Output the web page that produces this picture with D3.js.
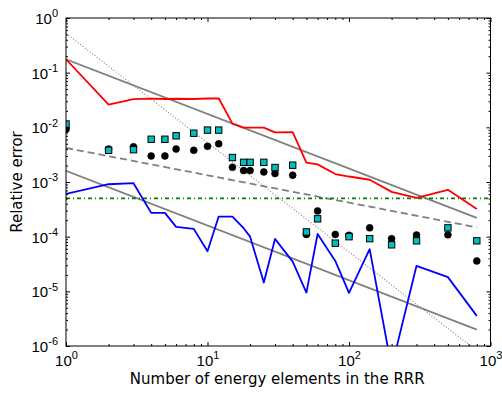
<!DOCTYPE html>
<html>
<head>
<meta charset="utf-8">
<script src="https://cdn.jsdelivr.net/npm/d3@7"></script>
<style>
  html, body { margin: 0; padding: 0; background: #fff; }
  svg { display: block; font-family: "DejaVu Sans", sans-serif; }
</style>
</head>
<body>
<svg id="chart" width="502" height="393"></svg>
<script>
// Number of energy elements in the RRR
const nValues = [1, 2, 3, 4, 5, 6, 8, 10, 12, 15, 18, 20, 25, 30, 40, 50, 60, 80, 100, 140, 200, 300, 500, 800];

// Relative error curves
const redError = [0.176, 0.026, 0.0327, 0.0335, 0.033, 0.0333, 0.033, 0.0337, 0.034, 0.0117, 0.0099, 0.0099, 0.0099,
  0.0081, 0.0082, 0.00226, 0.0021, 0.0014, 0.00126, 0.0011, 0.00066, 0.00051, 0.00072, 0.00032];
const blueError = [6.05e-4, 9.1e-4, 9.5e-4, 2.72e-4, 2.72e-4, 1.51e-4, 1.39e-4, 5.4e-5, 2.33e-4, 2.33e-4, 1.43e-4, 1.0e-4,
  1.45e-5, 9.1e-5, 3.5e-5, 9.5e-6, 1.12e-4, 3.6e-5, 9.4e-6, 5.9e-5, 4e-7, 2.93e-5, 1.82e-5, 3.56e-6];

// Marker series
const circleError = [9.2e-3, 4.0e-3, 4.4e-3, 3.0e-3, 3.0e-3, 4.0e-3, 3.8e-3, 4.5e-3, 5.0e-3, 1.86e-3, 1.62e-3, 1.62e-3,
  1.53e-3, 1.43e-3, 1.33e-3, 1.1e-4, 2.96e-4, 1.1e-4, 1.06e-4, 1.45e-4, 9.2e-5, 1.07e-4, 1.08e-4, 3.6e-5];
const squareError = [1.15e-2, 3.8e-3, 3.9e-3, 6.05e-3, 6.05e-3, 7.0e-3, 7.8e-3, 8.9e-3, 8.9e-3, 2.8e-3, 2.29e-3, 2.29e-3,
  2.29e-3, 1.84e-3, 2.03e-3, 1.22e-4, 2.12e-4, 7.6e-5, 1.0e-4, 9.2e-5, 7.1e-5, 8.4e-5, 1.45e-4, 8.4e-5];

// Power-law guide lines (endpoints at N = 1 and N = 800)
const guideN = [1, 800];
const guideUpper = [0.176, 2.2e-4];
const guideLower = [1.6e-3, 2.0e-6];
const guideSqrt = [4.2e-3, 1.48e-4];
const guideQuad = [0.525, 8.2e-7];

// Horizontal threshold
const thresholdN = [1, 1000];
const thresholdError = [5e-4, 5e-4];

// Axis ticks
const xDecades = [1, 10, 100, 1000];
const xExponents = ["0", "1", "2", "3"];
const yDecades = [1e-6, 1e-5, 1e-4, 1e-3, 1e-2, 1e-1, 1];
const yExponents = ["-6", "-5", "-4", "-3", "-2", "-1", "0"];

const svg = d3.select("#chart");
const margin = { left: 66, top: 18, right: 11.5, bottom: 47 };
const W = 502, H = 393;
const iw = W - margin.left - margin.right;
const ih = H - margin.top - margin.bottom;

const x = d3.scaleLog().domain([1, 1000]).range([0, iw]);
const y = d3.scaleLog().domain([1e-6, 1]).range([ih, 0]);

const g = svg.append("g").attr("transform", `translate(${margin.left},${margin.top})`);

g.append("clipPath").attr("id", "plotClip")
  .append("rect").attr("x", 0).attr("y", 0).attr("width", iw).attr("height", ih);

const plot = g.append("g").attr("clip-path", "url(#plotClip)");

const line = d3.line().x(d => x(d[0])).y(d => y(d[1]));
const zipped = (xs, ys) => xs.map((v, i) => [v, ys[i]]);

// Guide lines
plot.append("path").datum(zipped(guideN, guideQuad)).attr("d", line)
  .attr("fill", "none").attr("stroke", "#808080").attr("stroke-width", 1.1).attr("stroke-dasharray", "1,2");
plot.append("path").datum(zipped(guideN, guideSqrt)).attr("d", line)
  .attr("fill", "none").attr("stroke", "#808080").attr("stroke-width", 1.8).attr("stroke-dasharray", "7,4");
plot.append("path").datum(zipped(guideN, guideUpper)).attr("d", line)
  .attr("fill", "none").attr("stroke", "#808080").attr("stroke-width", 1.8);
plot.append("path").datum(zipped(guideN, guideLower)).attr("d", line)
  .attr("fill", "none").attr("stroke", "#808080").attr("stroke-width", 1.8);
plot.append("path").datum(zipped(thresholdN, thresholdError)).attr("d", line)
  .attr("fill", "none").attr("stroke", "#008000").attr("stroke-width", 1.8).attr("stroke-dasharray", "4,3,1,3");

// Error curves
plot.append("path").datum(zipped(nValues, redError)).attr("d", line)
  .attr("fill", "none").attr("stroke", "#ff0000").attr("stroke-width", 1.8).attr("stroke-linejoin", "round");
plot.append("path").datum(zipped(nValues, blueError)).attr("d", line)
  .attr("fill", "none").attr("stroke", "#0000ff").attr("stroke-width", 1.8).attr("stroke-linejoin", "round");

// Markers
plot.selectAll("circle.pt").data(zipped(nValues, circleError)).join("circle")
  .attr("class", "pt").attr("cx", d => x(d[0])).attr("cy", d => y(d[1])).attr("r", 3.5)
  .attr("fill", "#000").attr("stroke", "#000").attr("stroke-width", 0.5);
const sq = 6.4;
plot.selectAll("rect.pt").data(zipped(nValues, squareError)).join("rect")
  .attr("class", "pt").attr("x", d => x(d[0]) - sq / 2).attr("y", d => y(d[1]) - sq / 2)
  .attr("width", sq).attr("height", sq)
  .attr("fill", "#00bfbf").attr("stroke", "#000").attr("stroke-width", 1);

// Axes with inward ticks on all four sides
function minorTicks(domain) {
  const out = [];
  for (let e = Math.log10(domain[0]); e < Math.log10(domain[1]); e++) {
    for (let k = 2; k <= 9; k++) out.push(k * Math.pow(10, e));
  }
  return out;
}
const xMinor = minorTicks([1, 1000]);
const yMinor = minorTicks([1e-6, 1]);

function styleAxis(sel) {
  sel.select(".domain").remove();
  sel.selectAll("line").attr("stroke", "#000").attr("stroke-width", 1);
}

// Bottom
g.append("g").attr("transform", `translate(0,${ih})`)
  .call(d3.axisBottom(x).tickValues(xMinor).tickSize(-2).tickFormat("")).call(styleAxis);
const xAxis = g.append("g").attr("transform", `translate(0,${ih})`)
  .call(d3.axisBottom(x).tickValues(xDecades).tickSize(-4).tickPadding(8).tickFormat(() => ""))
  .call(styleAxis);
// Top
g.append("g").call(d3.axisTop(x).tickValues(xMinor).tickSize(-2).tickFormat("")).call(styleAxis);
g.append("g").call(d3.axisTop(x).tickValues(xDecades).tickSize(-4).tickFormat("")).call(styleAxis);
// Left
g.append("g").call(d3.axisLeft(y).tickValues(yMinor).tickSize(-2).tickFormat("")).call(styleAxis);
const yAxis = g.append("g")
  .call(d3.axisLeft(y).tickValues(yDecades).tickSize(-4).tickPadding(8).tickFormat(() => ""))
  .call(styleAxis);
// Right
g.append("g").attr("transform", `translate(${iw},0)`)
  .call(d3.axisRight(y).tickValues(yMinor).tickSize(-2).tickFormat("")).call(styleAxis);
g.append("g").attr("transform", `translate(${iw},0)`)
  .call(d3.axisRight(y).tickValues(yDecades).tickSize(-4).tickFormat("")).call(styleAxis);

// Tick labels as 10 with superscript exponent
function powerLabel(textSel, exps) {
  textSel.each(function (d, i) {
    const t = d3.select(this);
    t.text(null).attr("fill", "#000").attr("font-size", 15);
    t.append("tspan").text("10");
    t.append("tspan").attr("font-size", 11).attr("dy", -6.5).text(exps[i]);
  });
}
xAxis.selectAll(".tick text").call(powerLabel, xExponents)
  .attr("y", 0).attr("dy", 0)
  .attr("transform", "translate(0,19.5)");
yAxis.selectAll(".tick text").call(powerLabel, yExponents)
  .attr("x", -8).attr("dy", "0.36em");

// Frame
g.append("rect").attr("x", 0).attr("y", 0).attr("width", iw).attr("height", ih)
  .attr("fill", "none").attr("stroke", "#000").attr("stroke-width", 1);

// Axis titles
svg.append("text").attr("x", margin.left + iw / 2 - 1).attr("y", 384)
  .attr("text-anchor", "middle").attr("font-size", 15).attr("fill", "#000")
  .text("Number of energy elements in the RRR");
svg.append("text").attr("transform", `translate(22,${margin.top + ih / 2}) rotate(-90)`)
  .attr("text-anchor", "middle").attr("font-size", 15).attr("fill", "#000")
  .text("Relative error");
</script>
</body>
</html>
